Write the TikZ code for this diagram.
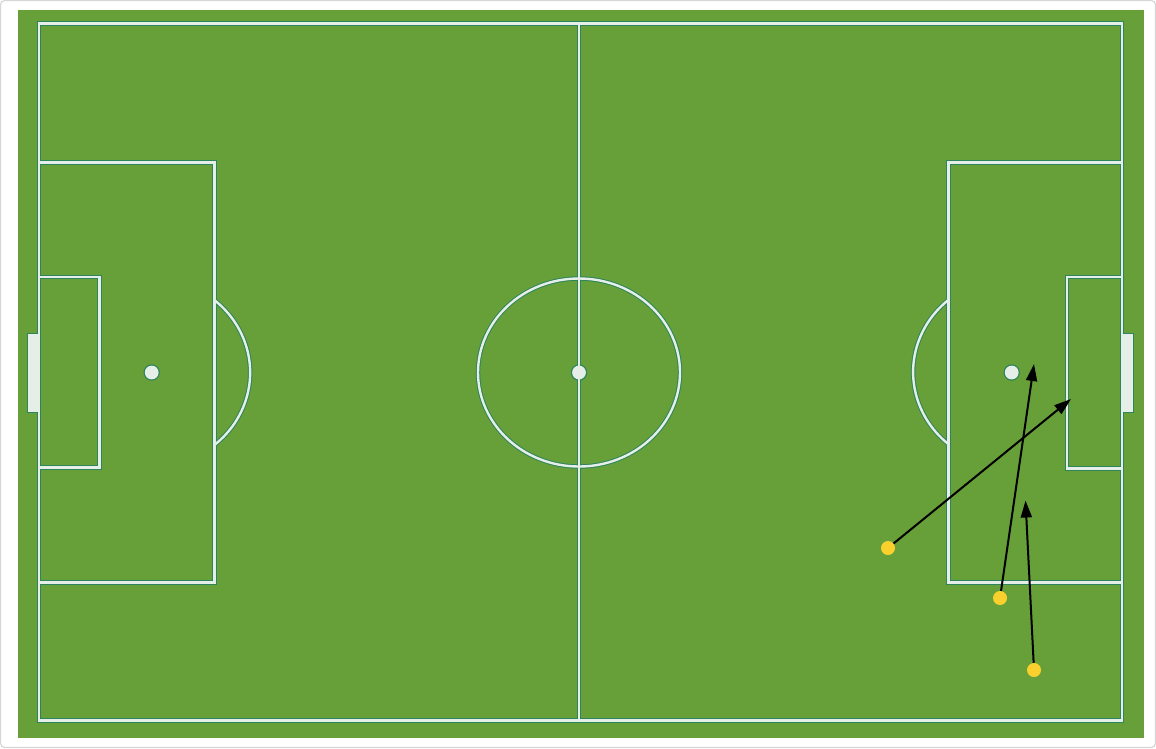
\documentclass[tikz,border=0pt]{standalone}
\usetikzlibrary{arrows.meta, positioning}
\definecolor{grass}{RGB}{103,160,57}
\definecolor{chalk}{RGB}{230,239,231}
\definecolor{lineedge}{RGB}{46,132,92}
\definecolor{playerdot}{RGB}{250,208,46}
\definecolor{framegray}{RGB}{214,214,214}

\begin{document}
\begin{tikzpicture}[x=1pt, y=-1pt,
            player/.style={circle, fill=playerdot, minimum size=14pt, inner sep=0pt},
            run/.style={draw=black, line width=2pt, -{Triangle[length=17pt, width=11pt]}}
        ]
            \useasboundingbox (0,0) rectangle (1156,748);
            \draw[framegray, line width=1.2pt, rounded corners=4pt, fill=white] (0.6,0.6) rectangle (1155.4,747.4);
            \fill[grass] (18,10) rectangle (1144,737.5);

            % markings: dark edge first, chalk on top
            \foreach \c/\w/\r in {lineedge/4.4/8.2, chalk/2.4/6.9} {
                \begin{scope}[draw=\c, line width=\w pt]
                    \draw (38.8,23.5) rectangle (1121.7,720.5);
                    \draw (579,23.5) -- (579,720.5);
                    \draw (579,372.5) ellipse [x radius=101, y radius=94];

                    \draw (38.8,162.5) -- (214.3,162.5) -- (214.3,582.5) -- (38.8,582.5);
                    \draw (38.8,277) -- (99.3,277) -- (99.3,467.5) -- (38.8,467.5);
                    \draw (214.3,300) arc [start angle=-50.5, end angle=50.5, x radius=98.5, y radius=94];

                    \draw (1121.7,162.5) -- (948.3,162.5) -- (948.3,582.5) -- (1121.7,582.5);
                    \draw (1121.7,277) -- (1066.7,277) -- (1066.7,468.5) -- (1121.7,468.5);
                    \draw (948.3,300) arc [start angle=230, end angle=130, x radius=98.5, y radius=94];

                    \filldraw[fill=\c] (29.3,335.5) rectangle (38.8,410.7);
                    \filldraw[fill=\c] (1121.7,335.5) rectangle (1131.7,410.7);
                \end{scope}
                \foreach \x in {151.7, 579, 1011.7}
                    \fill[\c] (\x,372.5) circle (\r);
            }

            \node[player] (p1) at (888,548) {};
            \node[player] (p2) at (1000,598) {};
            \node[player] (p3) at (1034,670) {};

            \coordinate (t1) at (1071,399);
            \coordinate (t2) at (1034,364);
            \coordinate (t3) at (1025.5,500.5);

            \foreach \i in {1,2,3}
                \draw[run] (p\i) -- (t\i);
        \end{tikzpicture}
\end{document}
